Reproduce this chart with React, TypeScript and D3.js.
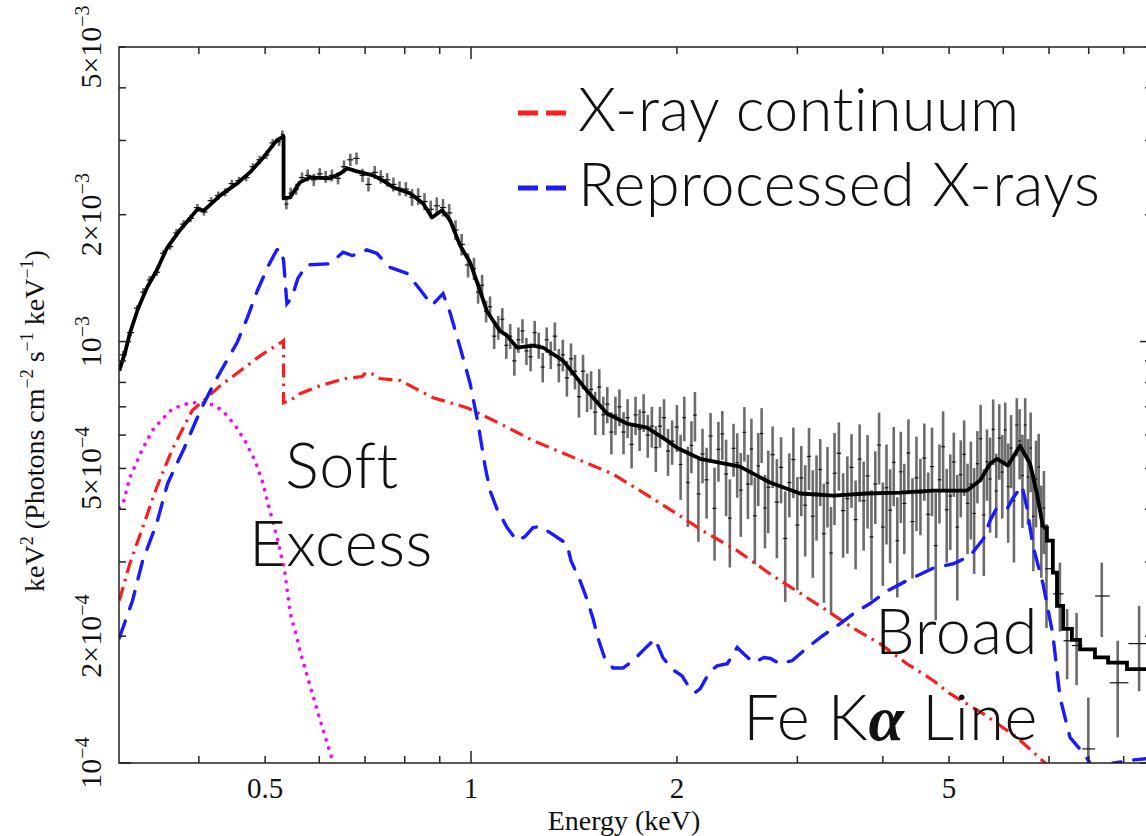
import React from "react";
import * as d3 from "d3";

const WIDTH = 1146;
const HEIGHT = 836;
const frame = { left: 119, top: 47, right: 1152, bottom: 763 };
const energyDomain = [0.3057, 9.9];
const fluxDomain = [1e-4, 5e-3];
// all flux arrays are in units of 10^-3 keV^2 (Photons cm^-2 s^-1 keV^-1)
const FLUX_UNIT = 1e-3;

const xTickLabels = [0.5, 1, 2, 5];
const yTickLabels = [1e-4, 2e-4, 5e-4, 1e-3, 2e-3, 5e-3];

// observed spectrum (error bars)
const dataEnergy = [
  0.31, 0.318, 0.325, 0.332, 0.339, 0.347, 0.355, 0.363, 0.371, 0.38, 0.389, 0.398, 0.407, 0.417, 0.427,
  0.437, 0.447, 0.458, 0.469, 0.48, 0.491, 0.502, 0.513, 0.524, 0.53,
  0.537, 0.545, 0.555, 0.566, 0.577, 0.589, 0.601, 0.613, 0.626, 0.639, 0.652, 0.666, 0.68, 0.694, 0.708,
  0.723, 0.738, 0.754, 0.77, 0.786, 0.803, 0.82, 0.837, 0.855, 0.873, 0.891, 0.91, 0.929, 0.949, 0.969, 0.99,
  1.01, 1.024, 1.038, 1.052, 1.066, 1.081, 1.096, 1.111, 1.126, 1.141, 1.157, 1.173, 1.189, 1.205, 1.222,
  1.239, 1.256, 1.273, 1.29, 1.308, 1.326, 1.344, 1.362, 1.381, 1.4, 1.419, 1.438, 1.458, 1.478, 1.498,
  1.519, 1.54, 1.561, 1.582, 1.604, 1.626, 1.648, 1.671, 1.694, 1.717, 1.74, 1.764, 1.788, 1.813, 1.838,
  1.863, 1.889, 1.915, 1.941, 1.968,
  2.0, 2.025, 2.05, 2.075, 2.1, 2.125, 2.15, 2.18, 2.21, 2.24, 2.27, 2.3, 2.33, 2.36, 2.39, 2.42, 2.45,
  2.48, 2.51, 2.54, 2.57, 2.6, 2.63, 2.66, 2.69, 2.72, 2.76, 2.8, 2.84, 2.88, 2.92, 2.96, 3.0, 3.04, 3.08,
  3.12, 3.16, 3.2, 3.24, 3.28, 3.32, 3.36, 3.4, 3.45, 3.5, 3.55, 3.6, 3.65, 3.7, 3.75, 3.8, 3.85, 3.9,
  3.95, 4.0, 4.05, 4.1, 4.15, 4.2, 4.25, 4.3, 4.36, 4.42, 4.48, 4.54, 4.6, 4.66, 4.72, 4.78, 4.84, 4.9,
  4.96, 5.02, 5.08, 5.14, 5.2, 5.26, 5.32, 5.38, 5.44, 5.5, 5.56, 5.62, 5.68, 5.74, 5.8, 5.86, 5.92, 5.98,
  6.04, 6.1, 6.16, 6.22, 6.28, 6.34, 6.4, 6.46, 6.52, 6.58, 6.64, 6.7, 6.76, 6.82, 6.88, 6.94,
  7.26, 7.44, 7.68, 7.99, 8.36, 8.82, 9.48,
];
const dataFlux = [
  0.93, 1.05, 1.2, 1.31, 1.4, 1.46, 1.62, 1.68, 1.81, 1.9, 1.96, 2.08, 2.03, 2.16, 2.22,
  2.26, 2.37, 2.41, 2.45, 2.6, 2.7, 2.77, 2.96, 2.98, 3.1,
  2.12, 2.25, 2.3, 2.45, 2.48, 2.42, 2.5, 2.46, 2.48, 2.44, 2.6, 2.7, 2.72, 2.48, 2.36,
  2.52, 2.46, 2.42, 2.36, 2.31, 2.3, 2.2, 2.21, 2.15, 2.06, 2.1, 2.08, 2.02, 1.84, 1.7, 1.52,
  1.49, 1.31, 1.36, 1.18, 1.21, 1.03, 1.08, 1.13, 0.98, 1.03, 0.9, 1.01, 1.06, 0.95, 0.92,
  1.05, 0.98, 0.87, 1.01, 0.93, 1.03, 0.88, 0.93, 0.82, 0.91, 0.85, 0.74, 0.85, 0.76, 0.77,
  0.68, 0.78, 0.67, 0.71, 0.61, 0.67, 0.7, 0.61, 0.66, 0.57, 0.67, 0.62, 0.68, 0.6, 0.63,
  0.56, 0.63, 0.66, 0.55, 0.58,
  0.627, 0.511, 0.66, 0.463, 0.567, 0.669, 0.435, 0.541, 0.47, 0.597, 0.402, 0.555, 0.604, 0.485, 0.381,
  0.558, 0.516, 0.444, 0.609, 0.459, 0.556, 0.386, 0.507, 0.605, 0.403, 0.451, 0.539, 0.416, 0.503, 0.341,
  0.463, 0.525, 0.367, 0.475, 0.409, 0.534, 0.385, 0.437, 0.497, 0.35, 0.462, 0.315, 0.487, 0.543, 0.397,
  0.424, 0.503, 0.378, 0.526, 0.419, 0.48, 0.344, 0.459, 0.568, 0.363, 0.45, 0.398, 0.517, 0.337, 0.491,
  0.413, 0.544, 0.374, 0.475, 0.437, 0.529, 0.389, 0.505, 0.328, 0.47, 0.563, 0.399, 0.43, 0.518, 0.363,
  0.483, 0.54, 0.413, 0.459, 0.391, 0.513, 0.588, 0.388, 0.519, 0.472, 0.619, 0.442, 0.59, 0.49, 0.617,
  0.453, 0.559, 0.419, 0.634, 0.581, 0.481, 0.634, 0.477, 0.559, 0.385, 0.472, 0.504, 0.365, 0.403, 0.289,
  0.252, 0.195, 0.19, 0.108, 0.249, 0.155, 0.192,
];
const dataErr = [
  0.02, 0.02, 0.02, 0.03, 0.03, 0.03, 0.03, 0.03, 0.04, 0.04, 0.04, 0.04, 0.04, 0.04, 0.05,
  0.05, 0.05, 0.05, 0.05, 0.05, 0.06, 0.06, 0.06, 0.07, 0.07,
  0.06, 0.07, 0.07, 0.07, 0.08, 0.08, 0.08, 0.08, 0.08, 0.08, 0.09, 0.09, 0.09, 0.09, 0.09,
  0.09, 0.09, 0.09, 0.09, 0.09, 0.09, 0.1, 0.1, 0.1, 0.1, 0.1, 0.1, 0.1, 0.1, 0.1, 0.1,
  0.09, 0.08, 0.08, 0.07, 0.07, 0.07, 0.07, 0.07, 0.07, 0.07, 0.07, 0.07, 0.07, 0.07, 0.07,
  0.07, 0.07, 0.07, 0.07, 0.07, 0.08, 0.08, 0.08, 0.08, 0.08, 0.08, 0.08, 0.08, 0.08, 0.08,
  0.08, 0.08, 0.07, 0.07, 0.07, 0.07, 0.07, 0.07, 0.07, 0.07, 0.07, 0.07, 0.07, 0.07, 0.07,
  0.07, 0.07, 0.07, 0.07, 0.07,
  0.08, 0.09, 0.08, 0.1, 0.08, 0.09, 0.1, 0.08, 0.09, 0.08, 0.1, 0.09, 0.08, 0.1, 0.09,
  0.08, 0.09, 0.1, 0.09, 0.08, 0.1, 0.09, 0.1, 0.09, 0.08, 0.1, 0.09, 0.11, 0.09, 0.1,
  0.08, 0.1, 0.11, 0.09, 0.1, 0.09, 0.11, 0.1, 0.09, 0.11, 0.1, 0.09, 0.12, 0.1, 0.09,
  0.11, 0.1, 0.09, 0.11, 0.1, 0.12, 0.1, 0.09, 0.11, 0.1, 0.12, 0.1, 0.11, 0.09, 0.12,
  0.1, 0.11, 0.1, 0.12, 0.09, 0.11, 0.1, 0.12, 0.11, 0.1, 0.12, 0.1, 0.11, 0.09, 0.12,
  0.1, 0.11, 0.1, 0.12, 0.11, 0.1, 0.12, 0.11, 0.1, 0.12, 0.11, 0.1, 0.12, 0.11, 0.1,
  0.12, 0.11, 0.12, 0.1, 0.11, 0.12, 0.1, 0.11, 0.12, 0.1, 0.11, 0.1, 0.09, 0.09, 0.08,
  0.047, 0.037, 0.037, 0.035, 0.05, 0.04, 0.044,
];

// total model (solid black)
const modelEnergy = [
  0.306, 0.312, 0.317, 0.326, 0.336, 0.347, 0.359, 0.375, 0.398, 0.407, 0.43, 0.455, 0.475, 0.497, 0.52,
  0.532, 0.532, 0.544, 0.562, 0.582, 0.622, 0.644, 0.659, 0.681, 0.719, 0.744, 0.77, 0.815, 0.851, 0.877,
  0.907, 0.932, 0.964, 0.997, 1.031, 1.055, 1.102, 1.129, 1.167, 1.232, 1.274, 1.363, 1.477, 1.58, 1.69,
  1.809, 1.935, 2.0, 2.162, 2.474, 2.736, 3.027, 3.383, 3.79, 4.238, 4.74, 5.31, 5.549, 5.739, 5.876,
  6.095, 6.348, 6.567, 6.72, 6.86,
];
const modelFlux = [
  0.853, 0.942, 1.045, 1.198, 1.344, 1.474, 1.663, 1.835, 2.059, 2.048, 2.223, 2.373, 2.52, 2.735, 3.002,
  3.068, 2.186, 2.2, 2.386, 2.452, 2.44, 2.506, 2.576, 2.534, 2.479, 2.41, 2.32, 2.247, 2.127, 1.97,
  2.05, 1.94, 1.69, 1.54, 1.32, 1.18, 1.06, 1.033, 0.968, 0.978, 0.968, 0.901, 0.765, 0.675, 0.639,
  0.625, 0.582, 0.56, 0.527, 0.505, 0.463, 0.436, 0.431, 0.436, 0.438, 0.443, 0.443, 0.468, 0.513, 0.527,
  0.508, 0.566, 0.513, 0.436, 0.362,
];
// binned high-energy end of the model (drawn as histogram steps)
const modelTailEnergy = [6.86, 6.95, 7.09, 7.19, 7.34, 7.56, 7.77, 8.17, 8.54, 9.1, 10.2];
const modelTailFlux = [0.362, 0.337, 0.283, 0.236, 0.208, 0.196, 0.186, 0.178, 0.173, 0.167, 0.167];

// X-ray continuum (red dash-dot)
const contEnergy = [
  0.306, 0.317, 0.331, 0.347, 0.365, 0.391, 0.408, 0.43, 0.46, 0.492, 0.53, 0.532, 0.532, 0.544, 0.562,
  0.602, 0.654, 0.693, 0.702, 0.716, 0.736, 0.788, 0.88, 0.986, 1.102, 1.232, 1.305, 1.608, 1.845, 2.0,
  2.18, 2.45, 2.764, 3.027, 3.314, 3.618, 3.962, 4.338, 4.74, 5.015, 5.605, 6.283, 6.91, 8.0,
];
const contFlux = [
  0.243, 0.297, 0.362, 0.45, 0.551, 0.686, 0.728, 0.786, 0.853, 0.926, 1.0, 1.005, 0.716, 0.724, 0.752,
  0.786, 0.817, 0.826, 0.844, 0.839, 0.817, 0.808, 0.736, 0.697, 0.639, 0.582, 0.56, 0.486, 0.424, 0.39,
  0.356, 0.319, 0.278, 0.253, 0.23, 0.209, 0.192, 0.172, 0.157, 0.146, 0.131, 0.115, 0.1, 0.075,
];

// reprocessed X-rays (blue dashed)
const reprocEnergy = [
  0.306, 0.32, 0.331, 0.347, 0.36, 0.381, 0.402, 0.423, 0.455, 0.471, 0.487, 0.504, 0.52, 0.527, 0.532,
  0.538, 0.547, 0.558, 0.575, 0.622, 0.65, 0.67, 0.688, 0.704, 0.728, 0.761, 0.807, 0.845, 0.877, 0.91,
  0.932, 0.964, 0.997, 1.024, 1.048, 1.066, 1.091, 1.129, 1.167, 1.198, 1.232, 1.261, 1.305, 1.381, 1.4,
  1.443, 1.477, 1.507, 1.533, 1.569, 1.613, 1.668, 1.725, 1.785, 1.858, 1.907, 1.967, 2.035, 2.09, 2.126,
  2.162, 2.236, 2.29, 2.37, 2.45, 2.51, 2.59, 2.68, 2.74, 2.83, 2.95, 3.09, 3.26, 3.463, 3.62,
  3.831, 4.06, 4.34, 4.74, 5.07, 5.364, 5.61, 5.739, 5.87, 5.935, 6.09, 6.19, 6.39, 6.5, 6.63,
  6.86, 7.09, 7.264, 7.512, 7.88, 8.14, 8.4, 8.68, 9.32, 9.9,
];
const reprocFlux = [
  0.198, 0.243, 0.302, 0.37, 0.46, 0.56, 0.686, 0.808, 0.995, 1.14, 1.32, 1.5, 1.65, 1.66, 1.557,
  1.23, 1.27, 1.41, 1.52, 1.53, 1.63, 1.6, 1.62, 1.65, 1.62, 1.5, 1.45, 1.32, 1.22, 1.3,
  1.17, 0.968, 0.795, 0.639, 0.508, 0.443, 0.401, 0.362, 0.337, 0.344, 0.362, 0.364, 0.352, 0.331, 0.302,
  0.271, 0.245, 0.221, 0.198, 0.177, 0.168, 0.168, 0.175, 0.185, 0.197, 0.178, 0.167, 0.161, 0.15, 0.147,
  0.15, 0.165, 0.17, 0.172, 0.188, 0.181, 0.173, 0.178, 0.177, 0.172, 0.175, 0.187, 0.2, 0.214, 0.226,
  0.239, 0.256, 0.271, 0.29, 0.297, 0.31, 0.34, 0.376, 0.403, 0.401, 0.403, 0.424, 0.455, 0.403, 0.328,
  0.266, 0.202, 0.143, 0.115, 0.105, 0.0968, 0.093, 0.1, 0.1017, 0.1027,
];

// soft excess (magenta dotted)
const softEnergy = [
  0.306, 0.31, 0.317, 0.33, 0.342, 0.354, 0.366, 0.388, 0.408, 0.423, 0.437, 0.452, 0.467, 0.483, 0.495,
  0.508, 0.522, 0.534, 0.544, 0.553, 0.562, 0.582, 0.602, 0.629,
];
const softFlux = [
  0.403, 0.413, 0.475, 0.551, 0.615, 0.656, 0.693, 0.716, 0.716, 0.705, 0.675, 0.632, 0.582, 0.522, 0.468,
  0.397, 0.337, 0.286, 0.227, 0.206, 0.185, 0.152, 0.126, 0.1,
];

const legendItems = [
  { label: "X-ray continuum", color: "#ff1c1c" },
  { label: "Reprocessed X-rays", color: "#1a1aff" },
];

const SERIF = "'Liberation Serif', 'Times New Roman', Times, serif";
const LIGHT = "Lato, 'Open Sans', Roboto, 'Helvetica Neue', sans-serif";

function Spectrum() {
  const ref = React.useRef<SVGSVGElement>(null);

  React.useEffect(() => {
    const svg = d3.select(ref.current);
    svg.selectAll("*").remove();

    const x = d3.scaleLog().domain(energyDomain).range([frame.left, frame.right]);
    const y = d3.scaleLog().domain(fluxDomain).range([frame.bottom, frame.top]);
    const fy = (f: number) => y(f * FLUX_UNIT);

    svg.append("rect").attr("width", WIDTH).attr("height", HEIGHT).attr("fill", "#fff");

    svg
      .append("defs")
      .append("clipPath")
      .attr("id", "plot-clip")
      .append("rect")
      .attr("x", frame.left)
      .attr("y", frame.top)
      .attr("width", frame.right - frame.left)
      .attr("height", frame.bottom - frame.top);

    const plot = svg.append("g").attr("clip-path", "url(#plot-clip)");

    // error bars: vertical = flux error, horizontal = bin width (half way to neighbours)
    const bins = dataEnergy.map((e, i) => {
      const prev = i > 0 ? dataEnergy[i - 1] : (e * e) / dataEnergy[i + 1];
      const next = i < dataEnergy.length - 1 ? dataEnergy[i + 1] : (e * e) / dataEnergy[i - 1];
      return {
        e,
        f: dataFlux[i],
        err: dataErr[i],
        lo: Math.sqrt(prev * e),
        hi: Math.sqrt(next * e),
      };
    });

    const pts = plot.append("g").selectAll("g").data(bins).join("g");
    pts
      .append("line")
      .attr("x1", (d) => x(d.e))
      .attr("x2", (d) => x(d.e))
      .attr("y1", (d) => fy(Math.max(d.f - d.err, 0.01)))
      .attr("y2", (d) => fy(d.f + d.err))
      .attr("stroke", "#262626")
      .attr("stroke-opacity", 0.68)
      .attr("stroke-width", 2.6);
    pts
      .append("line")
      .attr("x1", (d) => x(d.lo))
      .attr("x2", (d) => x(d.hi))
      .attr("y1", (d) => fy(d.f))
      .attr("y2", (d) => fy(d.f))
      .attr("stroke", "#111")
      .attr("stroke-width", 1.2);

    const line = d3
      .line<number>()
      .x((d) => x(d[0]))
      .y((d) => fy(d[1]));
    const pairs = (es: number[], fs: number[]) => es.map((e, i) => [e, fs[i]]);

    plot
      .append("path")
      .datum(pairs(softEnergy, softFlux))
      .attr("fill", "none")
      .attr("stroke", "#ff00ff")
      .attr("stroke-width", 3.6)
      .attr("stroke-linecap", "round")
      .attr("stroke-dasharray", "0.1 8.5")
      .attr("d", line);

    plot
      .append("path")
      .datum(pairs(contEnergy, contFlux))
      .attr("fill", "none")
      .attr("stroke", legendItems[0].color)
      .attr("stroke-width", 3.2)
      .attr("stroke-dasharray", "14 6 2.5 6")
      .attr("d", line);

    plot
      .append("path")
      .datum(pairs(reprocEnergy, reprocFlux))
      .attr("fill", "none")
      .attr("stroke", legendItems[1].color)
      .attr("stroke-width", 3.4)
      .attr("stroke-linecap", "round")
      .attr("stroke-dasharray", "18 13")
      .attr("d", line);

    plot
      .append("path")
      .datum(pairs(modelEnergy, modelFlux))
      .attr("fill", "none")
      .attr("stroke", "#000")
      .attr("stroke-width", 3.8)
      .attr("stroke-linejoin", "round")
      .attr("d", line);

    plot
      .append("path")
      .datum(pairs(modelTailEnergy, modelTailFlux))
      .attr("fill", "none")
      .attr("stroke", "#000")
      .attr("stroke-width", 3.8)
      .attr("d", line.curve(d3.curveStepAfter));

    // frame and ticks on all four sides
    const axes = svg.append("g").attr("stroke", "#222").attr("stroke-width", 1.5);
    axes
      .append("rect")
      .attr("x", frame.left)
      .attr("y", frame.top)
      .attr("width", frame.right - frame.left)
      .attr("height", frame.bottom - frame.top)
      .attr("fill", "none");

    const logTicks = (lo: number, hi: number) => {
      const out: { v: number; major: boolean }[] = [];
      for (let k = Math.floor(Math.log10(lo)); k <= Math.ceil(Math.log10(hi)); k++) {
        for (let m = 1; m <= 9; m++) {
          const v = m * Math.pow(10, k);
          if (v >= lo * 0.999 && v <= hi * 1.001) out.push({ v, major: m === 1 });
        }
      }
      return out;
    };

    logTicks(energyDomain[0], energyDomain[1]).forEach(({ v, major }) => {
      const len = major ? 12 : 7;
      const px = x(v);
      axes.append("line").attr("x1", px).attr("x2", px).attr("y1", frame.bottom).attr("y2", frame.bottom - len);
      axes.append("line").attr("x1", px).attr("x2", px).attr("y1", frame.top).attr("y2", frame.top + len);
    });
    logTicks(fluxDomain[0], fluxDomain[1]).forEach(({ v, major }) => {
      const len = major ? 12 : 7;
      const py = y(v);
      axes.append("line").attr("x1", frame.left).attr("x2", frame.left + len).attr("y1", py).attr("y2", py);
      axes.append("line").attr("x1", frame.right).attr("x2", frame.right - len).attr("y1", py).attr("y2", py);
    });

    // tick labels
    const labels = svg.append("g").attr("font-family", SERIF).attr("fill", "#111").attr("font-size", 29);
    xTickLabels.forEach((v) => {
      labels
        .append("text")
        .attr("x", x(v))
        .attr("y", 798)
        .attr("text-anchor", "middle")
        .text(String(v));
    });
    yTickLabels.forEach((v) => {
      const exp = Math.floor(Math.log10(v) + 1e-9);
      const mant = Math.round(v / Math.pow(10, exp));
      const t = labels
        .append("text")
        .attr("x", 101)
        .attr("y", y(v))
        .attr("font-size", 30)
        .attr("text-anchor", "middle")
        .attr("transform", `rotate(-90, 101, ${y(v)})`);
      t.append("tspan").text(mant === 1 ? "10" : `${mant}\u00d710`);
      t.append("tspan").attr("dy", -12).attr("font-size", 20).text(`\u2212${Math.abs(exp)}`);
    });

    // axis titles
    labels
      .append("text")
      .attr("x", 624)
      .attr("y", 830)
      .attr("font-size", 28)
      .attr("text-anchor", "middle")
      .text("Energy (keV)");

    const yTitle = labels
      .append("text")
      .attr("x", 44)
      .attr("y", 421)
      .attr("font-size", 28)
      .attr("text-anchor", "middle")
      .attr("transform", "rotate(-90, 44, 421)");
    const titleParts: [string, boolean][] = [
      ["keV", false],
      ["2", true],
      [" (Photons cm", false],
      ["\u22122", true],
      [" s", false],
      ["\u22121", true],
      [" keV", false],
      ["\u22121", true],
      [")", false],
    ];
    let raised = false;
    titleParts.forEach(([txt, sup]) => {
      const ts = yTitle.append("tspan").text(txt);
      if (sup && !raised) ts.attr("dy", -11).attr("font-size", 18);
      if (sup && raised) ts.attr("font-size", 18);
      if (!sup && raised) ts.attr("dy", 11);
      raised = sup;
    });

    // legend
    const legend = svg.append("g");
    legendItems.forEach((item, i) => {
      const ly = 113 + i * 75;
      legend
        .append("line")
        .attr("x1", 518)
        .attr("x2", 566)
        .attr("y1", ly)
        .attr("y2", ly)
        .attr("stroke", item.color)
        .attr("stroke-width", 5)
        .attr("stroke-dasharray", "20 8");
      legend
        .append("text")
        .attr("x", 578)
        .attr("y", ly + 18)
        .attr("font-family", LIGHT)
        .attr("font-weight", 300)
        .attr("font-size", 61)
        .attr("letter-spacing", 0.5)
        .attr("fill", "#111")
        .text(item.label);
    });

    // annotations
    const notes = svg
      .append("g")
      .attr("font-family", LIGHT)
      .attr("font-weight", 300)
      .attr("font-size", 63)
      .attr("letter-spacing", 0.6)
      .attr("fill", "#111");
    notes.append("text").attr("x", 342).attr("y", 488).attr("text-anchor", "middle").text("Soft");
    notes.append("text").attr("x", 341).attr("y", 566).attr("text-anchor", "middle").text("Excess");
    notes.append("text").attr("x", 1038).attr("y", 654).attr("text-anchor", "end").text("Broad");
    const fe = notes.append("text").attr("x", 1038).attr("y", 740).attr("text-anchor", "end");
    fe.append("tspan").text("Fe K");
    fe.append("tspan")
      .attr("font-family", SERIF)
      .attr("font-weight", "bold")
      .attr("font-style", "italic")
      .attr("font-size", 64)
      .text("\u03b1");
    fe.append("tspan").text(" Line");
  }, []);

  return (
    <svg
      ref={ref}
      width={WIDTH}
      height={HEIGHT}
      style={{ position: "absolute", left: 0, top: 0, display: "block" }}
    />
  );
}

export default function App() {
  return <Spectrum />;
}
